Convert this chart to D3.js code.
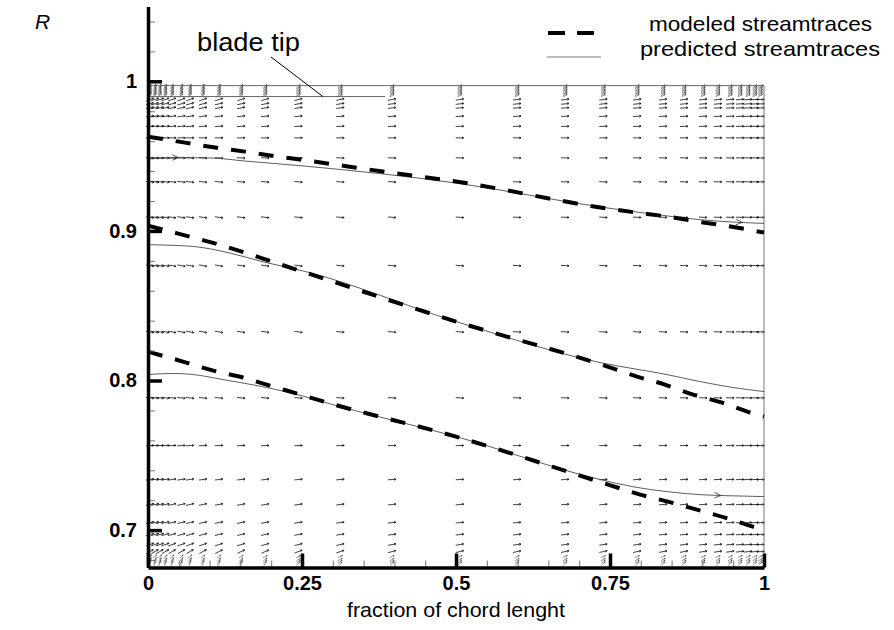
<!DOCTYPE html>
<html>
<head>
<meta charset="utf-8">
<script src="https://cdn.jsdelivr.net/npm/d3@7"></script>
<style>
  body { margin: 0; background: #fff; }
  svg { font-family: "Liberation Sans", Arial, sans-serif; }
</style>
</head>
<body>
<div id="graph"></div>
<script>
// Streamlines: [fraction of chord, R]
const modeled1 = [[0, 0.963], [0.06, 0.959], [0.109, 0.9557], [0.157, 0.953], [0.201, 0.9503], [0.247, 0.9477], [0.393, 0.939], [0.5, 0.933], [0.745, 0.915], [0.794, 0.9122], [0.843, 0.9096], [0.891, 0.9063], [0.937, 0.9035], [1, 0.8989]]
const modeled2 = [[0, 0.9035], [0.049, 0.8982], [0.104, 0.8922], [0.157, 0.8855], [0.201, 0.8795], [0.25, 0.8729], [0.5, 0.8394], [0.746, 0.8093], [0.794, 0.8026], [0.839, 0.7973], [0.885, 0.7906], [0.932, 0.7852], [0.977, 0.7786], [1, 0.7759]]
const modeled3 = [[0, 0.8193], [0.062, 0.812], [0.106, 0.8066], [0.154, 0.802], [0.198, 0.7966], [0.247, 0.7906], [0.291, 0.7852], [0.5, 0.7625], [0.747, 0.7304], [0.799, 0.7237], [0.844, 0.719], [0.891, 0.7137], [0.937, 0.7083], [0.982, 0.7023], [1, 0.7003]]

const predicted1 = [[0, 0.948], [0.049, 0.949], [0.104, 0.9487], [0.157, 0.9467], [0.255, 0.9433], [0.5, 0.932], [0.734, 0.916], [0.843, 0.91], [0.896, 0.9075], [0.97, 0.9055], [1, 0.905]]
const predicted2 = [[0, 0.8908], [0.049, 0.8902], [0.076, 0.8895], [0.13, 0.8855], [0.185, 0.8795], [0.255, 0.8729], [0.5, 0.8394], [0.734, 0.812], [0.843, 0.8039], [0.896, 0.7993], [0.95, 0.7953], [1, 0.7926]]
const predicted3 = [[0, 0.804], [0.041, 0.8047], [0.073, 0.804], [0.122, 0.8006], [0.177, 0.7966], [0.23, 0.7919], [0.312, 0.7825], [0.5, 0.7625], [0.734, 0.7338], [0.787, 0.729], [0.843, 0.7257], [0.896, 0.7237], [0.94, 0.723], [1, 0.7224]]

// arrowheads on the predicted streamtraces: [line index, fraction of chord]
const streamArrows = [[0, 0.05], [0, 0.965], [2, 0.93]]

// Vector field grid (columns = chord fraction, rows = R)
const vecCols = [0.003, 0.011, 0.019, 0.028, 0.039, 0.054, 0.068, 0.089, 0.115, 0.151, 0.19, 0.244, 0.312, 0.396, 0.506, 0.599, 0.677, 0.739, 0.794, 0.836, 0.87, 0.901, 0.925, 0.945, 0.961, 0.974, 0.985, 0.994]
const colWeight = [1, 1, 1, 1, 1, 1, 1, 0.95, 0.9, 0.85, 0.8, 0.7, 0.6, 0.5, 0.45, 0.4, 0.4, 0.4, 0.4, 0.35, 0.35, 0.3, 0.3, 0.25, 0.2, 0.2, 0.15, 0.1]
const vecRows = [0.9967, 0.9958, 0.9949, 0.994, 0.9931, 0.9922, 0.9913, 0.9904, 0.9878, 0.9849, 0.9822, 0.9766, 0.9699, 0.9622, 0.9488, 0.9328, 0.9091, 0.8768, 0.8325, 0.7884, 0.7565, 0.7338, 0.7171, 0.705, 0.697, 0.6903, 0.6856, 0.6823, 0.6803, 0.6789, 0.6776]
const rowAngle = [60, 50, 60, 50, 60, 50, 60, 50, 20, 15, 12, 8, 5, 0, -3, -6, -8, -10, -10, -6, 3, 8, 12, 12, 15, 20, 30, 40, 50, 60, 70]

// Axes ticks
const xMajor = [0, 0.25, 0.5, 0.75, 1]
const xMinor = [0.05, 0.1, 0.15, 0.2, 0.3, 0.35, 0.4, 0.45, 0.55, 0.6, 0.65, 0.7, 0.8, 0.85, 0.9, 0.95]
const yMajor = [0.7, 0.8, 0.9, 1]
const yMinor = [0.68, 0.72, 0.74, 0.76, 0.78, 0.82, 0.84, 0.86, 0.88, 0.92, 0.94, 0.96, 0.98, 1.02, 1.04]

const bladeTip = 0.9971
const bladeLine = { r: 0.9898, to: 0.385 }

const width = 894, height = 630

const svg = d3.select('#graph')
  .append('svg')
  .attr('width', width)
  .attr('height', height)

const x = d3.scaleLinear().domain([0, 1]).range([148, 764])
const y = d3.scaleLinear().domain([0.675, 1.05]).range([567.5, 6.5])

// vector field
const vf = svg.append('g').attr('stroke', '#111').attr('fill', 'none')
vecRows.forEach(function (r, i) {
  const cluster = i < 8 || i > 26
  const L = cluster ? 5 : 8
  vecCols.forEach(function (c, j) {
    const a = rowAngle[i] * (cluster ? Math.max(colWeight[j], 0.6) : colWeight[j]) * Math.PI / 180
    const cx = x(c), cy = y(r)
    const dx = Math.cos(a) * L / 2, dy = -Math.sin(a) * L / 2
    const x0 = cx - dx, y0 = cy - dy, x1 = cx + dx, y1 = cy + dy
    const h = cluster ? 1.3 : 2
    const b1 = a + Math.PI - 0.5, b2 = a + Math.PI + 0.5
    vf.append('path')
      .attr('stroke-width', cluster ? 0.45 : 0.8)
      .attr('d', `M${x0},${y0}L${x1},${y1}M${x1 + Math.cos(b1) * h},${y1 - Math.sin(b1) * h}L${x1},${y1}L${x1 + Math.cos(b2) * h},${y1 - Math.sin(b2) * h}`)
  })
})

// blade tip lines and right border
svg.append('line')
  .attr('x1', x(0)).attr('x2', x(1))
  .attr('y1', y(bladeTip)).attr('y2', y(bladeTip))
  .attr('stroke', '#666').attr('stroke-width', 1)
svg.append('line')
  .attr('x1', x(0)).attr('x2', x(bladeLine.to))
  .attr('y1', y(bladeLine.r)).attr('y2', y(bladeLine.r))
  .attr('stroke', '#666').attr('stroke-width', 1)
svg.append('line')
  .attr('x1', x(1)).attr('x2', x(1))
  .attr('y1', y(bladeTip)).attr('y2', y.range()[0])
  .attr('stroke', '#777').attr('stroke-width', 1)

// streamtraces
const line = d3.line()
  .x(function (d) { return x(d[0]) })
  .y(function (d) { return y(d[1]) })
  .curve(d3.curveMonotoneX)

const predicted = [predicted1, predicted2, predicted3]
predicted.forEach(function (p) {
  svg.append('path')
    .datum(p)
    .attr('fill', 'none')
    .attr('stroke', '#333')
    .attr('stroke-width', 0.8)
    .attr('d', line)
})

function pointAt(data, f) {
  for (let i = 1; i < data.length; i++) {
    if (f <= data[i][0]) {
      const t = (f - data[i - 1][0]) / (data[i][0] - data[i - 1][0])
      const r = data[i - 1][1] + t * (data[i][1] - data[i - 1][1])
      const ang = Math.atan2(y(data[i][1]) - y(data[i - 1][1]), x(data[i][0]) - x(data[i - 1][0]))
      return [x(f), y(r), ang]
    }
  }
}

streamArrows.forEach(function (s) {
  const [px, py, ang] = pointAt(predicted[s[0]], s[1])
  const h = 7
  svg.append('path')
    .attr('fill', 'none')
    .attr('stroke', '#333')
    .attr('stroke-width', 0.8)
    .attr('d', `M${px + Math.cos(ang + Math.PI - 0.4) * h},${py + Math.sin(ang + Math.PI - 0.4) * h}L${px},${py}L${px + Math.cos(ang + Math.PI + 0.4) * h},${py + Math.sin(ang + Math.PI + 0.4) * h}`)
})

;[modeled1, modeled2, modeled3].forEach(function (m) {
  svg.append('path')
    .datum(m)
    .attr('fill', 'none')
    .attr('stroke', '#000')
    .attr('stroke-width', 4)
    .attr('stroke-dasharray', '15,13')
    .attr('d', line)
})

// axes
const yAxisMinor = d3.axisLeft(y).tickValues(yMinor).tickSize(-7).tickFormat('').tickSizeOuter(0)
svg.append('g').attr('transform', `translate(${x(0)},0)`).call(yAxisMinor)
  .call(g => g.select('.domain').remove())
  .selectAll('line').attr('stroke', '#777').attr('stroke-width', 1)

const xAxisMinor = d3.axisBottom(x).tickValues(xMinor).tickSize(-7).tickFormat('').tickSizeOuter(0)
svg.append('g').attr('transform', `translate(0,${y(0.675)})`).call(xAxisMinor)
  .call(g => g.select('.domain').remove())
  .selectAll('line').attr('stroke', '#777').attr('stroke-width', 1)

const yAxis = d3.axisLeft(y).tickValues(yMajor).tickSize(-14).tickPadding(11).tickSizeOuter(0)
  .tickFormat(d3.format('~g'))
const gy = svg.append('g').attr('transform', `translate(${x(0)},0)`).call(yAxis)
gy.select('.domain').attr('stroke', '#000').attr('stroke-width', 3.5)
gy.selectAll('.tick line').attr('stroke', '#000').attr('stroke-width', 3.5)
gy.selectAll('.tick text').attr('font-size', 20).attr('font-weight', 'bold')
  .attr('font-family', '"Liberation Sans", Arial, sans-serif').attr('fill', '#000')

const xAxis = d3.axisBottom(x).tickValues(xMajor).tickSize(-14).tickPadding(8).tickSizeOuter(0)
  .tickFormat(d3.format('~g'))
const gx = svg.append('g').attr('transform', `translate(0,${y(0.675)})`).call(xAxis)
gx.select('.domain').attr('stroke', '#000').attr('stroke-width', 3.5)
gx.selectAll('.tick line').attr('stroke', '#000').attr('stroke-width', 3.5)
gx.selectAll('.tick text').attr('font-size', 20).attr('font-weight', 'bold')
  .attr('font-family', '"Liberation Sans", Arial, sans-serif').attr('fill', '#000')

// axis labels
svg.append('text')
  .attr('x', (x(0) + x(1)) / 2)
  .attr('y', 617)
  .attr('text-anchor', 'middle')
  .attr('font-size', 21)
  .attr('textLength', 218).attr('lengthAdjust', 'spacingAndGlyphs')
  .text('fraction of chord lenght')

svg.append('text')
  .attr('x', 35)
  .attr('y', 29)
  .attr('font-size', 21)
  .attr('font-style', 'italic')
  .text('R')

// blade tip annotation
svg.append('text')
  .attr('x', 197)
  .attr('y', 51)
  .attr('font-size', 25)
  .attr('textLength', 103).attr('lengthAdjust', 'spacingAndGlyphs')
  .text('blade tip')
svg.append('line')
  .attr('x1', 271).attr('y1', 57)
  .attr('x2', x(0.284)).attr('y2', y(bladeLine.r))
  .attr('stroke', '#000').attr('stroke-width', 1)

// legend
const legend = svg.append('g')
legend.append('line')
  .attr('x1', 548).attr('x2', 594).attr('y1', 33).attr('y2', 33)
  .attr('stroke', '#000').attr('stroke-width', 4).attr('stroke-dasharray', '17,12')
legend.append('line')
  .attr('x1', 547).attr('x2', 601).attr('y1', 57).attr('y2', 57)
  .attr('stroke', '#555').attr('stroke-width', 0.8)
legend.append('text')
  .attr('x', 649).attr('y', 31)
  .attr('font-size', 21)
  .attr('textLength', 223).attr('lengthAdjust', 'spacingAndGlyphs')
  .text('modeled streamtraces')
legend.append('text')
  .attr('x', 640).attr('y', 56)
  .attr('font-size', 21)
  .attr('textLength', 240).attr('lengthAdjust', 'spacingAndGlyphs')
  .text('predicted streamtraces')
</script>
</body>
</html>
